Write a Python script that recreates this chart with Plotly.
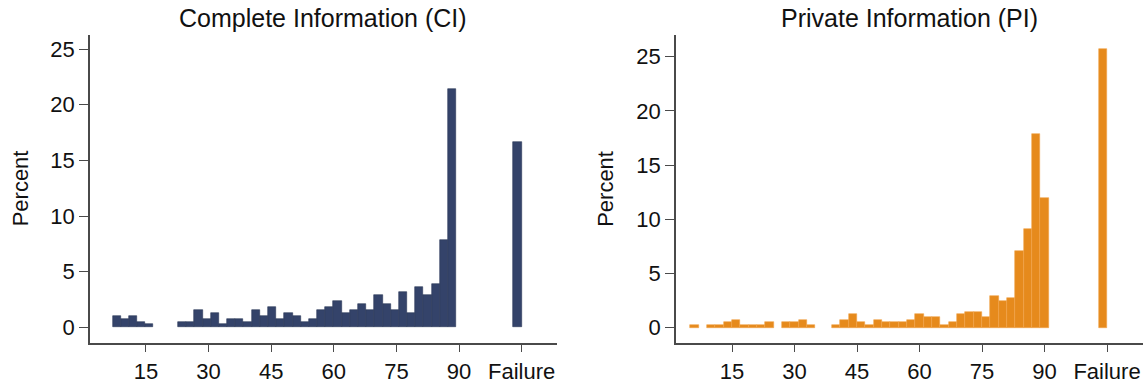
import plotly.graph_objects as go

# Histogram bins (percent of subjects); the last bin (coded 105) holds "Failure"
ci_bin_start = 7.0
ci_bin_width = 1.96
ci_percent = [
    1.04, 0.78, 1.04, 0.52, 0.26, 0, 0, 0, 0.52, 0.52,
    1.57, 0.78, 1.31, 0.26, 0.78, 0.78, 0.52, 1.57, 1.04, 1.83,
    0.78, 1.31, 1.04, 0.52, 0.78, 1.57, 1.83, 2.35, 1.31, 1.57,
    2.09, 1.57, 2.87, 2.09, 1.57, 3.13, 1.31, 3.66, 2.87, 3.92,
    7.83, 21.41, 0, 0, 0, 0, 0, 0, 0, 16.68,
]

pi_bin_start = 5.0
pi_bin_width = 2.0
pi_percent = [
    0.25, 0, 0.25, 0.25, 0.49, 0.74, 0.25, 0.25, 0.25, 0.49,
    0, 0.49, 0.49, 0.74, 0.25, 0, 0, 0.25, 0.74, 1.23,
    0.49, 0.25, 0.74, 0.49, 0.49, 0.49, 0.74, 1.23, 0.98, 0.98,
    0.25, 0.49, 1.23, 1.47, 1.47, 0.98, 2.94, 2.45, 2.70, 7.11,
    9.07, 17.89, 12.01, 0, 0, 0, 0, 0, 0, 25.70,
]

x_tick_vals = [15, 30, 45, 60, 75, 90, 105]
x_tick_text = ["15", "30", "45", "60", "75", "90", "Failure"]
y_tick_vals = [0, 5, 10, 15, 20, 25]

panel_titles = ["Complete Information (CI)", "Private Information (PI)"]
y_title = "Percent"

FONT = "Liberation Sans, Arial, sans-serif"
TEXT = "#111111"
AXIS = "#4a4a4a"


def bar_trace(start, width, values, fill, edge, xa, ya):
    centers = [start + (i + 0.5) * width for i in range(len(values))]
    heights = [v if v > 0 else None for v in values]
    return go.Bar(
        x=centers, y=heights, width=width,
        marker=dict(color=fill, line=dict(color=edge, width=0.6)),
        xaxis=xa, yaxis=ya, showlegend=False, hoverinfo="x+y",
    )


fig = go.Figure()
fig.add_trace(bar_trace(ci_bin_start, ci_bin_width, ci_percent,
                        "#34436a", "#2a3858", "x", "y"))
fig.add_trace(bar_trace(pi_bin_start, pi_bin_width, pi_percent,
                        "#e68a1c", "#f0a24a", "x2", "y2"))

y_bottom = (383 - 342.7) / 383
y_top = (383 - 35) / 383
left_dom = [90 / 1148, 556.7 / 1148]
right_dom = [676 / 1148, 1142.7 / 1148]

common_x = dict(
    tickmode="array", tickvals=x_tick_vals, ticktext=x_tick_text,
    ticks="outside", ticklen=8, tickwidth=1.3, tickcolor=AXIS,
    showline=True, linecolor=AXIS, linewidth=1.5,
    showgrid=False, zeroline=False,
    tickfont=dict(family=FONT, size=22, color=TEXT),
)
common_y = dict(
    tickmode="array", tickvals=y_tick_vals,
    ticks="outside", ticklen=9, tickwidth=1.3, tickcolor=AXIS,
    showline=True, linecolor=AXIS, linewidth=1.5,
    showgrid=False, zeroline=False,
    tickfont=dict(family=FONT, size=22, color=TEXT),
)

fig.update_layout(
    width=1148, height=383,
    margin=dict(l=0, r=0, t=0, b=0),
    paper_bgcolor="white", plot_bgcolor="white",
    bargap=0,
    xaxis=dict(domain=left_dom, range=[1.6, 113.4], anchor="y", **common_x),
    yaxis=dict(domain=[y_bottom, y_top], range=[-1.38, 26.26], anchor="x", **common_y),
    xaxis2=dict(domain=right_dom, range=[1.56, 113.56], anchor="y2", **common_x),
    yaxis2=dict(domain=[y_bottom, y_top], range=[-1.38, 27.0], anchor="x2", **common_y),
)

title_y = 1 - 18 / 383
for dom, text in zip([left_dom, right_dom], panel_titles):
    fig.add_annotation(
        x=(dom[0] + dom[1]) / 2, y=title_y, xref="paper", yref="paper",
        text=text, showarrow=False, xanchor="center", yanchor="middle",
        font=dict(family=FONT, size=25, color=TEXT),
    )

y_mid = ((y_bottom + y_top) / 2)
for xpix in [20.5, 606]:
    fig.add_annotation(
        x=xpix / 1148, y=y_mid, xref="paper", yref="paper",
        text=y_title, textangle=-90, showarrow=False,
        xanchor="center", yanchor="middle",
        font=dict(family=FONT, size=22, color=TEXT),
    )

fig.write_html("out.html")
